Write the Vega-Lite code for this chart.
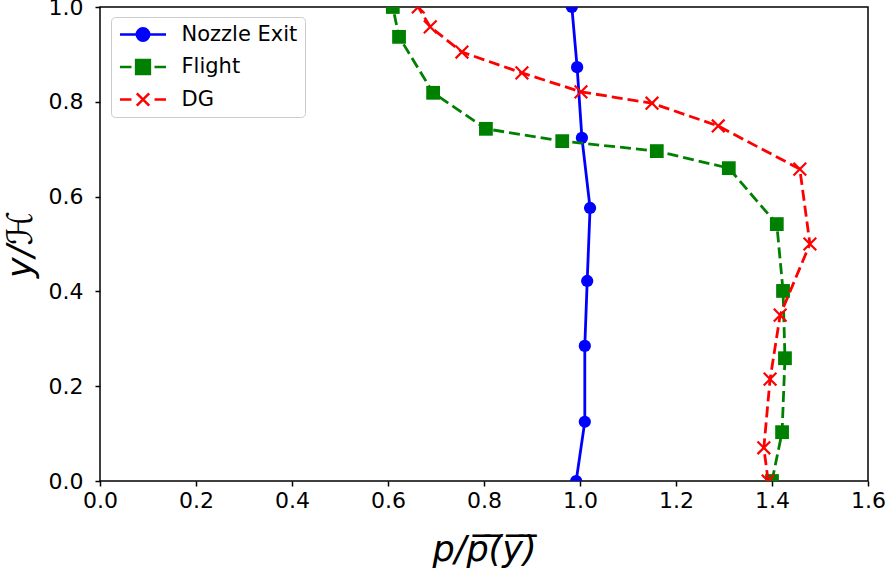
{
  "$schema": "https://vega.github.io/schema/vega-lite/v6.json",
  "width": 768,
  "height": 474,
  "autosize": {"type": "none"},
  "padding": {"left": 100, "top": 7, "right": 22, "bottom": 96},
  "background": "white",
  "config": {
    "view": {"stroke": "black", "strokeWidth": 1.5},
    "axis": {
      "domain": false,
      "grid": false,
      "labelFont": "DejaVu Sans",
      "labelFontSize": 22,
      "labelColor": "black",
      "labelFlush": false,
      "labelOverlap": false,
      "tickColor": "black",
      "tickSize": 5,
      "tickWidth": 1.5,
      "titleFont": "DejaVu Sans",
      "titleFontSize": 35,
      "titleFontWeight": "normal",
      "titleFontStyle": "italic",
      "titleColor": "black"
    },
    "legend": {
      "orient": "none",
      "legendX": 11,
      "legendY": 10,
      "title": null,
      "fillColor": "rgba(255,255,255,0.8)",
      "strokeColor": "#cccccc",
      "strokeWidth": 1,
      "cornerRadius": 4,
      "padding": 7.5,
      "labelFont": "DejaVu Sans",
      "labelFontSize": 21,
      "labelColor": "black",
      "labelOffset": 14,
      "symbolSize": 2116,
      "symbolStrokeWidth": 2.5,
      "symbolOpacity": 1,
      "clipHeight": 20,
      "rowPadding": 11.5
    }
  },
  "data": {
    "values": [
      {"series": "Nozzle Exit", "x": 0.992, "y": 0.0},
      {"series": "Nozzle Exit", "x": 1.010, "y": 0.125},
      {"series": "Nozzle Exit", "x": 1.010, "y": 0.285},
      {"series": "Nozzle Exit", "x": 1.015, "y": 0.422},
      {"series": "Nozzle Exit", "x": 1.021, "y": 0.576},
      {"series": "Nozzle Exit", "x": 1.004, "y": 0.724},
      {"series": "Nozzle Exit", "x": 0.994, "y": 0.873},
      {"series": "Nozzle Exit", "x": 0.983, "y": 1.0},
      {"series": "Flight", "x": 1.400, "y": 0.0},
      {"series": "Flight", "x": 1.421, "y": 0.103},
      {"series": "Flight", "x": 1.427, "y": 0.259},
      {"series": "Flight", "x": 1.423, "y": 0.401},
      {"series": "Flight", "x": 1.410, "y": 0.542},
      {"series": "Flight", "x": 1.310, "y": 0.660},
      {"series": "Flight", "x": 1.160, "y": 0.696},
      {"series": "Flight", "x": 0.963, "y": 0.717},
      {"series": "Flight", "x": 0.804, "y": 0.743},
      {"series": "Flight", "x": 0.694, "y": 0.819},
      {"series": "Flight", "x": 0.623, "y": 0.937},
      {"series": "Flight", "x": 0.610, "y": 1.0},
      {"series": "DG", "x": 1.392, "y": 0.0},
      {"series": "DG", "x": 1.383, "y": 0.070},
      {"series": "DG", "x": 1.396, "y": 0.215},
      {"series": "DG", "x": 1.417, "y": 0.350},
      {"series": "DG", "x": 1.479, "y": 0.500},
      {"series": "DG", "x": 1.458, "y": 0.658},
      {"series": "DG", "x": 1.288, "y": 0.749},
      {"series": "DG", "x": 1.150, "y": 0.797},
      {"series": "DG", "x": 1.002, "y": 0.821},
      {"series": "DG", "x": 0.879, "y": 0.861},
      {"series": "DG", "x": 0.754, "y": 0.905},
      {"series": "DG", "x": 0.688, "y": 0.958},
      {"series": "DG", "x": 0.663, "y": 1.0}
    ]
  },
  "encoding": {
    "x": {
      "field": "x",
      "type": "quantitative",
      "scale": {"domain": [0, 1.6], "nice": false, "zero": false},
      "axis": {"values": [0, 0.2, 0.4, 0.6, 0.8, 1.0, 1.2, 1.4, 1.6], "format": ".1f", "title": "p/p̅(̅y̅)̅", "titlePadding": 21, "labelPadding": 4}
    },
    "y": {
      "field": "y",
      "type": "quantitative",
      "scale": {"domain": [0, 1], "nice": false, "zero": false},
      "axis": {"values": [0, 0.2, 0.4, 0.6, 0.8, 1.0], "format": ".1f", "title": "y/ℋ", "titlePadding": 10, "labelPadding": 12}
    }
  },
  "layer": [
    {
      "transform": [{"filter": "datum.series === 'Nozzle Exit'"}],
      "mark": {"type": "line", "clip": true, "strokeWidth": 2.8, "color": "#0000ff"},
      "encoding": {"order": {"field": "y", "type": "quantitative"}}
    },
    {
      "transform": [{"filter": "datum.series === 'Nozzle Exit'"}],
      "mark": {"type": "point", "clip": true, "filled": true, "shape": "circle", "size": 150, "opacity": 1, "color": "#0000ff"}
    },
    {
      "transform": [{"filter": "datum.series === 'Flight'"}],
      "mark": {"type": "line", "clip": true, "strokeWidth": 2.8, "color": "#008000", "strokeDash": [11, 5]},
      "encoding": {"order": {"field": "y", "type": "quantitative"}}
    },
    {
      "transform": [{"filter": "datum.series === 'Flight'"}],
      "mark": {"type": "point", "clip": true, "filled": true, "shape": "square", "size": 190, "opacity": 1, "color": "#008000"}
    },
    {
      "transform": [{"filter": "datum.series === 'DG'"}],
      "mark": {"type": "line", "clip": true, "strokeWidth": 2.8, "color": "#ff0000", "strokeDash": [11, 5]},
      "encoding": {"order": {"field": "y", "type": "quantitative"}}
    },
    {
      "transform": [{"filter": "datum.series === 'DG'"}],
      "mark": {"type": "point", "clip": true, "filled": false, "shape": "M-1,-1L1,1M-1,1L1,-1", "size": 160, "opacity": 1, "strokeWidth": 2.2, "color": "#ff0000"}
    },
    {
      "transform": [{"filter": "false"}],
      "mark": {"type": "point", "filled": true, "opacity": 1, "strokeWidth": 2.5},
      "encoding": {
        "color": {
          "field": "series",
          "type": "nominal",
          "scale": {"domain": ["Nozzle Exit", "Flight", "DG"], "range": ["#0000ff", "#008000", "#ff0000"]}
        },
        "stroke": {
          "field": "series",
          "type": "nominal",
          "scale": {"domain": ["Nozzle Exit", "Flight", "DG"], "range": ["#0000ff", "#008000", "#ff0000"]}
        },
        "shape": {
          "field": "series",
          "type": "nominal",
          "scale": {
            "domain": ["Nozzle Exit", "Flight", "DG"],
            "range": [
              "M-1,0H1M-0.27,0A0.27,0.27 0 1,0 0.27,0A0.27,0.27 0 1,0 -0.27,0",
              "M-1,0H-0.5M-0.3,-0.3H0.3V0.3H-0.3ZM0.5,0H1",
              "M-1,0H-0.5M-0.27,-0.27L0.27,0.27M-0.27,0.27L0.27,-0.27M0.5,0H1"
            ]
          }
        }
      }
    }
  ]
}
